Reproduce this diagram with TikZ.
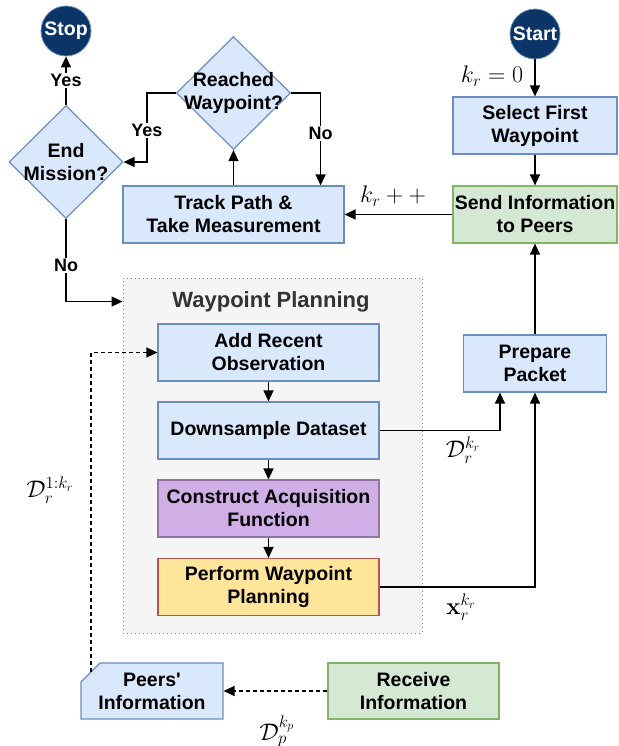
\RequirePackage{fix-cm}
\documentclass[tikz,border=0pt]{standalone}
\usepackage{amsmath,amssymb}
\usepackage[no-math]{fontspec}
\setmainfont{Liberation Sans}
\usepackage{tikz}
\usetikzlibrary{shapes.geometric, arrows.meta, positioning, calc}
\definecolor{nodeblue}{HTML}{DAE8FC}
\definecolor{edgeblue}{HTML}{6C8EBF}
\definecolor{nodegreen}{HTML}{D5E8D4}
\definecolor{edgegreen}{HTML}{82B366}
\definecolor{nodepurple}{HTML}{D0AEE6}
\definecolor{edgepurple}{HTML}{9673A6}
\definecolor{nodeyellow}{HTML}{FFE599}
\definecolor{edgered}{HTML}{B85450}
\definecolor{navy}{HTML}{0B3566}
\definecolor{panelgray}{HTML}{F5F5F5}
\newcommand{\boxfont}{\fontsize{19.5}{23}\selectfont\bfseries}
\newcommand{\lblfont}{\fontsize{18}{21}\selectfont\bfseries}
\newcommand{\mathfont}{\fontsize{24}{28}\selectfont}

\begin{document}
\begin{tikzpicture}[
    x=1pt, y=-1pt,
    line width=1.3pt,
    arr/.style={-{Triangle[length=11pt,width=10pt]}},
    box/.style={rectangle, draw=edge#1, fill=node#1, line width=1.2pt,
                minimum height=57pt, inner sep=0pt, align=center, font=\boxfont},
    decision/.style={diamond, draw=edgeblue, fill=nodeblue, line width=1.2pt,
                     minimum width=114pt, minimum height=113pt, inner sep=0pt,
                     label={[font=\boxfont, align=center]center:#1}},
    terminal/.style={circle, draw=edgeblue, fill=navy, line width=0.8pt,
                     minimum size=50pt, inner sep=0pt, text=white, font=\boxfont},
    lbl/.style={fill=white, inner sep=1pt, font=\lblfont},
    mlbl/.style={inner sep=0pt, font=\mathfont}
]
    \useasboundingbox (0,0) rectangle (618,746);

    % Planning panel
    \node[rectangle, draw=gray, fill=panelgray, line width=0.9pt,
          dash pattern=on 1pt off 3pt, minimum width=299pt, minimum height=355pt]
          (wp) at (272.5,455.5) {};
    \node[font=\fontsize{22}{26}\selectfont\bfseries, text=black!80] (wptitle) at (271,302) {Waypoint Planning};

    % Terminals and decisions
    \node[terminal] (stop) at (66,31) {Stop};
    \node[terminal] (start) at (535,34) {Start};
    \node[decision={End\\Mission?}] (endm) at (66,162) {};
    \node[decision={Reached\\Waypoint?}] (reached) at (233.5,93) {};

    % Process steps
    \node[box=blue, minimum width=221pt] (track) at (233.5,214.5) {Track Path \&\\Take Measurement};
    \node[box=blue, minimum width=164pt] (select) at (535,125.5) {Select First\\Waypoint};
    \node[box=green, minimum width=164pt] (send) at (535,214.5) {Send Information\\to Peers};
    \node[box=blue, minimum width=221pt] (add) at (268.5,352.5) {Add Recent\\Observation};
    \node[box=blue, minimum width=221pt] (down) at (268.5,430.5) {Downsample Dataset};
    \node[box=purple, minimum width=221pt] (acq) at (268.5,508.5) {Construct Acquisition\\Function};
    \node[box=blue, minimum width=221pt, draw=edgered, fill=nodeyellow] (perf) at (268.5,587) {Perform Waypoint\\Planning};
    \node[box=blue, minimum width=143pt] (prep) at (535,363.5) {Prepare\\Packet};
    % card outline for the peers' store
    \filldraw[draw=edgeblue, fill=nodeblue, line width=1.2pt]
        (81,719) -- (81,682) -- (100,663) -- (223,663) -- (223,719) -- cycle;
    \node[box=blue, draw=none, fill=none, minimum width=142pt, minimum height=56pt] (peers) at (152,691) {Peers\textquotesingle\\Information};
    \node[box=green, minimum width=171pt, minimum height=56pt] (recv) at (413.5,691) {Receive\\Information};

    % Main loop
    \draw[arr] (start) -- (select);
    \node[mlbl] (k0) at (492,76) {$k_r = 0$};
    \draw[arr] (select) -- (send);
    \draw[arr] (send) -- (track);
    \node[mlbl] (kinc) at (393,196) {$k_r ++$};
    \draw[arr] (track) -- (reached);
    \draw[arr] (reached.west) -- ++(-29,0) |- (endm.east) node[lbl, pos=0.27] {Yes};
    \draw[arr] (reached.east) -| ([xshift=-24pt]track.north east) node[lbl, pos=0.72] {No};
    \draw[arr] (endm) -- (stop) node[lbl, midway] {Yes};
    \draw[arr] (endm.south) |- ([yshift=-24pt]wp.north west) node[lbl, pos=0.28] {No};

    % Planning steps
    \draw[arr] (add) -- (down);
    \draw[arr] (down) -- (acq);
    \draw[arr] (acq) -- (perf);
    \draw[arr] (down.east) -| ([xshift=-35pt]prep.south);
    \node[mlbl] (dlbl) at (463,450) {$\mathcal{D}_r^{k_r}$};
    \draw[arr] (perf.east) -| (prep.south);
    \node[mlbl] (xlbl) at (461,607) {$\mathbf{x}_r^{k_r}$};
    \draw[arr] (prep) -- (send);

    % Shared information
    \draw[arr, dash pattern=on 4pt off 3pt] (recv) -- (peers);
    \node[mlbl] (dplbl) at (277,731) {$\mathcal{D}_p^{k_p}$};
    \coordinate (pcut) at (91,672);
    \draw[arr, dash pattern=on 4pt off 3pt] (pcut) |- (add.west);
    \node[mlbl] (dhist) at (50,490) {$\mathcal{D}_r^{1:k_r}$};
\end{tikzpicture}
\end{document}
